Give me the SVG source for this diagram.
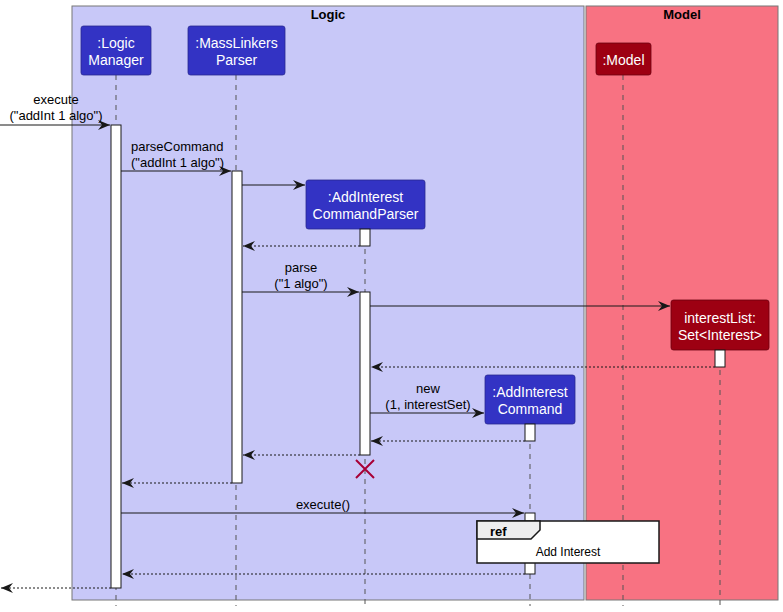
<svg xmlns="http://www.w3.org/2000/svg" width="783" height="612" viewBox="0 0 783 612">
<style>
.grp{stroke:#777777;stroke-width:1}
.ttl{font-family:"Liberation Sans",Arial,sans-serif;font-size:13px;font-weight:bold;fill:#000;text-anchor:middle}
.pl{fill:#3333C4;stroke:#2A2A90;stroke-width:0.8}
.pm{fill:#9D0012;stroke:#6A0010;stroke-width:0.8}
.pt{font-family:"Liberation Sans",Arial,sans-serif;font-size:14px;fill:#FFFFFF;text-anchor:middle}
.life{stroke:#555555;stroke-width:1;stroke-dasharray:5,5}
.act{fill:#FFFFFF;stroke:#181818;stroke-width:1}
.msg{stroke:#181818;stroke-width:1;fill:none;marker-end:url(#ah)}
.ret{stroke:#181818;stroke-width:1;fill:none;stroke-dasharray:2,2;marker-end:url(#ah)}
.ml{font-family:"Liberation Sans",Arial,sans-serif;font-size:13px;fill:#000}
</style>
<defs>
<marker id="ah" markerUnits="userSpaceOnUse" markerWidth="14" markerHeight="12" refX="13" refY="6" orient="auto">
<path d="M1,1 L13,6 L1,11 L5,6 Z" fill="#181818"/>
</marker>
</defs>
<g id="group-logic">
<rect class="grp" x="72" y="6" width="512" height="594" fill="#C8C8F8"/>
<text class="ttl" x="328" y="19">Logic</text>
</g>
<g id="group-model">
<rect class="grp" x="586" y="6" width="192" height="594" fill="#F87282"/>
<text class="ttl" x="682" y="19">Model</text>
</g>
<g id="lifelines">
<line class="life" x1="116" y1="75" x2="116" y2="606"/>
<line class="life" x1="236" y1="75" x2="236" y2="606"/>
<line class="life" x1="365" y1="229" x2="365" y2="606"/>
<line class="life" x1="623" y1="75" x2="623" y2="606"/>
<line class="life" x1="720" y1="350" x2="720" y2="606"/>
<line class="life" x1="530" y1="424" x2="530" y2="606"/>
</g>
<g id="LogicManager">
<rect class="pl" x="81" y="26" width="70" height="49" rx="2.5"/>
<text class="pt" x="116" y="48">:Logic</text>
<text class="pt" x="116" y="65">Manager</text>
<rect class="act" x="111" y="125" width="10" height="463"/>
</g>
<g id="MassLinkersParser">
<rect class="pl" x="188" y="26" width="97" height="49" rx="2.5"/>
<text class="pt" x="236.5" y="48">:MassLinkers</text>
<text class="pt" x="236.5" y="65">Parser</text>
<rect class="act" x="232" y="171" width="10" height="312"/>
</g>
<g id="AddInterestCommandParser">
<rect class="pl" x="306" y="180" width="119" height="49" rx="2.5"/>
<text class="pt" x="365.5" y="202">:AddInterest</text>
<text class="pt" x="365.5" y="219">CommandParser</text>
<rect class="act" x="360" y="229" width="10" height="17"/>
<rect class="act" x="360" y="292" width="10" height="163"/>
<path d="M356,460 L374,478 M374,460 L356,478" stroke="#A80036" stroke-width="2"/>
</g>
<g id="Model">
<rect class="pm" x="596" y="43" width="55" height="32" rx="2.5"/>
<text class="pt" x="623.5" y="65">:Model</text>
</g>
<g id="interestList">
<rect class="pm" x="671" y="300" width="98" height="50" rx="2.5"/>
<text class="pt" x="720" y="323">interestList:</text>
<text class="pt" x="720" y="340">Set&lt;Interest&gt;</text>
<rect class="act" x="715" y="350" width="10" height="17"/>
</g>
<g id="AddInterestCommand">
<rect class="pl" x="485" y="375" width="90" height="49" rx="2.5"/>
<text class="pt" x="530" y="397">:AddInterest</text>
<text class="pt" x="530" y="414">Command</text>
<rect class="act" x="525" y="424" width="10" height="17"/>
<rect class="act" x="525" y="513" width="10" height="61"/>
</g>
<g id="connectors">
<line class="msg" x1="0" y1="125" x2="110" y2="125"/>
<text class="ml" x="56" y="104" text-anchor="middle">execute</text>
<text class="ml" x="56" y="120" text-anchor="middle">("addInt 1 algo")</text>
<line class="msg" x1="121" y1="171" x2="231" y2="171"/>
<text class="ml" x="131" y="151">parseCommand</text>
<text class="ml" x="131" y="167">("addInt 1 algo")</text>
<line class="msg" x1="242" y1="185" x2="305" y2="185"/>
<line class="ret" x1="360" y1="246" x2="243" y2="246"/>
<line class="msg" x1="242" y1="292" x2="359" y2="292"/>
<text class="ml" x="301" y="272" text-anchor="middle">parse</text>
<text class="ml" x="301" y="288" text-anchor="middle">("1 algo")</text>
<line class="msg" x1="370" y1="306" x2="670" y2="306"/>
<line class="ret" x1="715" y1="367" x2="371" y2="367"/>
<line class="msg" x1="370" y1="413" x2="484" y2="413"/>
<text class="ml" x="428" y="393" text-anchor="middle">new</text>
<text class="ml" x="428" y="409" text-anchor="middle">(1, interestSet)</text>
<line class="ret" x1="525" y1="441" x2="371" y2="441"/>
<line class="ret" x1="360" y1="455" x2="243" y2="455"/>
<line class="ret" x1="232" y1="483" x2="122" y2="483"/>
<line class="msg" x1="121" y1="513" x2="524" y2="513"/>
<text class="ml" x="323" y="509" text-anchor="middle">execute()</text>
<line class="ret" x1="525" y1="574" x2="122" y2="574"/>
<line class="ret" x1="111" y1="588" x2="1" y2="588"/>
</g>
<g id="ref-AddInterest">
<rect x="477" y="521" width="182" height="42" fill="#FFFFFF" stroke="#181818" stroke-width="1.5"/>
<path d="M477,521 L540,521 L540,530 L531,539 L477,539 Z" fill="#EEEEEE" stroke="#181818" stroke-width="1.5"/>
<text x="490" y="536" font-family="Liberation Sans,Arial,sans-serif" font-size="13" font-weight="bold" fill="#000">ref</text>
<text x="568" y="556" font-family="Liberation Sans,Arial,sans-serif" font-size="12" fill="#000" text-anchor="middle">Add Interest</text>
</g>
</svg>
